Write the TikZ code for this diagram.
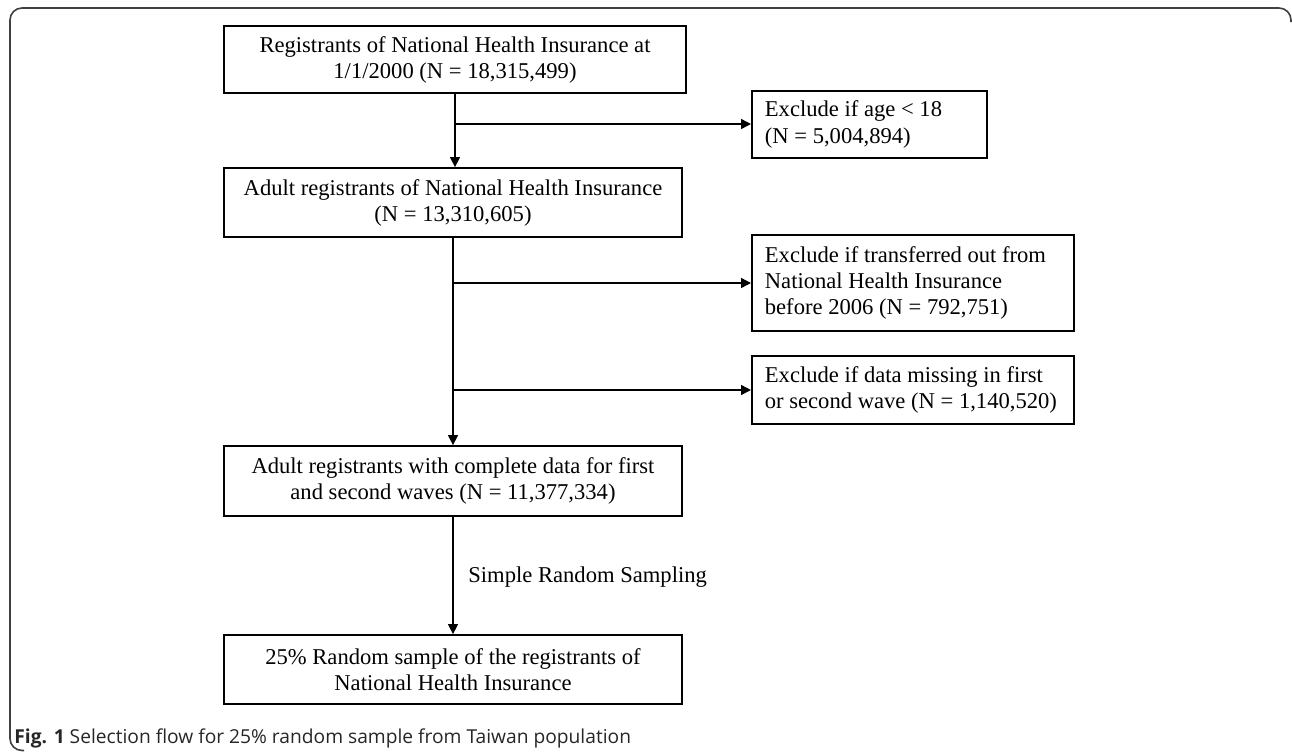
\documentclass[tikz,border=0pt]{standalone}
\usepackage{fontspec}
\setmainfont{Liberation Serif}
\newfontfamily\capfont{Open Sans}
\usetikzlibrary{arrows.meta}

\begin{document}
\begin{tikzpicture}[x=0.5pt,y=-0.5pt,
    box/.style={draw,line width=0.9pt,align=center,font=\fontsize{11.3}{13}\selectfont,inner sep=0pt},
    excl/.style={draw,line width=0.9pt,align=flush left,font=\fontsize{11.3}{13.2}\selectfont,inner xsep=6.5pt,inner ysep=0pt},
    arr/.style={-{Triangle[length=5pt,width=5pt]},line width=0.7pt}]
      \useasboundingbox (0,0) rectangle (1292,751);
      \draw[black!75,line width=0.8pt,rounded corners=6pt] (24,750.5) -- (10,750.5) -- (10,8) -- (1291,8) -- (1291,22);

      \node (reg) at (455,59.5) [box,minimum width=231pt,minimum height=33.5pt] {Registrants of National Health Insurance at\\1/1/2000 (N = 18,315,499)};
      \node (adult) at (453,202.5) [box,minimum width=229pt,minimum height=34.5pt] {Adult registrants of National Health Insurance\\(N = 13,310,605)};
      \node (compl) at (453,481) [box,minimum width=229pt,minimum height=35pt] {Adult registrants with complete data for first\\and second waves (N = 11,377,334)};
      \node (samp) at (453,669.5) [box,minimum width=229pt,minimum height=34.5pt] {25\% Random sample of the registrants of\\National Health Insurance};

      \node (age) at (751,124.5) [excl,anchor=west,text width=104.5pt,minimum height=33.5pt] {Exclude if age < 18\\(N = 5,004,894)};
      \node (trans) at (751,283) [excl,anchor=west,text width=148pt,minimum height=48pt] {Exclude if transferred out from\\National Health Insurance\\before 2006 (N = 792,751)};
      \node (miss) at (751,390) [excl,anchor=west,text width=148pt,minimum height=34pt] {Exclude if data missing in first\\or second wave (N = 1,140,520)};

      \coordinate (j1) at (455,124);
      \coordinate (j2) at (453,283);
      \coordinate (j3) at (453,390);

      \draw[arr] (reg.south) -- (reg.south |- adult.north);
      \draw[arr] (j1) -- (age.west |- j1);
      \draw[arr] (adult.south) -- (compl.north);
      \draw[arr] (j2) -- (trans.west |- j2);
      \draw[arr] (j3) -- (miss.west |- j3);
      \draw[arr] (compl.south) -- (samp.north) node[midway,right=4pt,font=\fontsize{11.3}{13}\selectfont,yshift=-1pt] {Simple Random Sampling};

      \node (cap) at (14,743) [anchor=base west,inner sep=0pt,font=\capfont\fontsize{9.6}{11}\selectfont,text=black!85] {\textbf{Fig. 1} Selection flow for 25\% random sample from Taiwan population};
\end{tikzpicture}
\end{document}
